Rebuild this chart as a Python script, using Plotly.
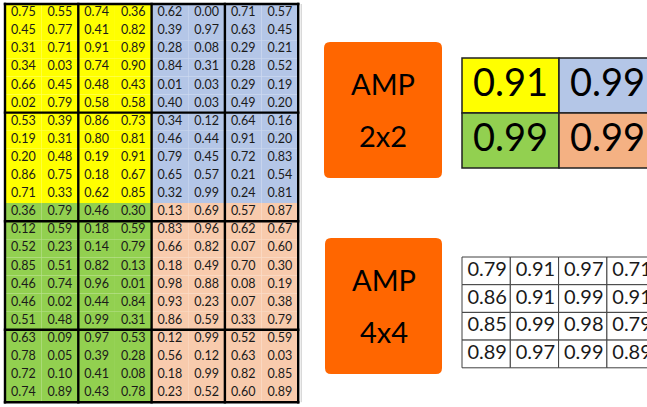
import plotly.graph_objects as go

# ---------------- data ----------------
grid_block1 = [
    [0.75, 0.55, 0.74, 0.36, 0.62, 0.00, 0.71, 0.57],
    [0.45, 0.77, 0.41, 0.82, 0.39, 0.97, 0.63, 0.45],
    [0.31, 0.71, 0.91, 0.89, 0.28, 0.08, 0.29, 0.21],
    [0.34, 0.03, 0.74, 0.90, 0.84, 0.31, 0.28, 0.52],
    [0.66, 0.45, 0.48, 0.43, 0.01, 0.03, 0.29, 0.19],
    [0.02, 0.79, 0.58, 0.58, 0.40, 0.03, 0.49, 0.20],
]
grid_block2 = [
    [0.53, 0.39, 0.86, 0.73, 0.34, 0.12, 0.64, 0.16],
    [0.19, 0.31, 0.80, 0.81, 0.46, 0.44, 0.91, 0.20],
    [0.20, 0.48, 0.19, 0.91, 0.79, 0.45, 0.72, 0.83],
    [0.86, 0.75, 0.18, 0.67, 0.65, 0.57, 0.21, 0.54],
    [0.71, 0.33, 0.62, 0.85, 0.32, 0.99, 0.24, 0.81],
    [0.36, 0.79, 0.46, 0.30, 0.13, 0.69, 0.57, 0.87],
]
grid_block3 = [
    [0.12, 0.59, 0.18, 0.59, 0.83, 0.96, 0.62, 0.67],
    [0.52, 0.23, 0.14, 0.79, 0.66, 0.82, 0.07, 0.60],
    [0.85, 0.51, 0.82, 0.13, 0.18, 0.49, 0.70, 0.30],
    [0.46, 0.74, 0.96, 0.01, 0.98, 0.88, 0.08, 0.19],
    [0.46, 0.02, 0.44, 0.84, 0.93, 0.23, 0.07, 0.38],
    [0.51, 0.48, 0.99, 0.31, 0.86, 0.59, 0.33, 0.79],
]
grid_block4 = [
    [0.63, 0.09, 0.97, 0.53, 0.12, 0.99, 0.52, 0.59],
    [0.78, 0.05, 0.39, 0.28, 0.56, 0.12, 0.63, 0.03],
    [0.72, 0.10, 0.41, 0.08, 0.18, 0.99, 0.82, 0.85],
    [0.74, 0.89, 0.43, 0.78, 0.23, 0.52, 0.60, 0.89],
]
amp2_values = [
    [0.91, 0.99],
    [0.99, 0.99],
]
amp4_values = [
    [0.79, 0.91, 0.97, 0.71],
    [0.86, 0.91, 0.99, 0.91],
    [0.85, 0.99, 0.98, 0.79],
    [0.89, 0.97, 0.99, 0.89],
]
amp_titles = ["AMP", "AMP"]
amp_sizes = ["2x2", "4x4"]

# ---------------- styles ----------------
YELLOW = "#FFFF00"
BLUE = "#B4C6E7"
GREEN = "#92D050"
SALMON = "#F8CBAD"
SALMON2 = "#F4B183"
ORANGE = "#FF6600"
TXT = "#1a1a1a"
FONT = "Lato"

W, H = 647, 407
shapes = []
tx, ty, tt = [], [], []

# ---------------- left grid ----------------
grid = grid_block1 + grid_block2 + grid_block3 + grid_block4
nrows, ncols = len(grid), len(grid[0])
gx0, gy0 = 5.0, 4.0
cw, rh = 36.65, 18.1
for r in range(nrows):
    for c in range(ncols):
        if r < 11:
            col = YELLOW if c < 4 else BLUE
        else:
            col = GREEN if c < 4 else SALMON
        shapes.append(dict(type="rect", xref="x", yref="y",
                           x0=gx0 + c * cw, x1=gx0 + (c + 1) * cw,
                           y0=gy0 + r * rh, y1=gy0 + (r + 1) * rh,
                           fillcolor=col, line=dict(width=0), layer="below"))
        tx.append(gx0 + (c + 0.5) * cw)
        ty.append(gy0 + (r + 0.5) * rh)
        tt.append(f"{grid[r][c]:.2f}")
gx1 = gx0 + ncols * cw
gy1 = gy0 + nrows * rh
# light grey outer edge
shapes.append(dict(type="line", xref="x", yref="y", x0=gx1 + 3, x1=gx1 + 3,
                   y0=gy0, y1=gy1, line=dict(color="#c8c8c8", width=1)))
for c in range(0, ncols + 1, 2):
    shapes.append(dict(type="line", xref="x", yref="y",
                       x0=gx0 + c * cw, x1=gx0 + c * cw, y0=gy0 - 1.2, y1=gy1 + 1.2,
                       line=dict(color="black", width=2.4)))
for r in [0, 6, 12, 18, nrows]:
    shapes.append(dict(type="line", xref="x", yref="y",
                       x0=gx0 - 1.2, x1=gx1 + 1.2, y0=gy0 + r * rh, y1=gy0 + r * rh,
                       line=dict(color="black", width=2.4)))


# ---------------- AMP boxes ----------------
def rounded(x0, y0, x1, y1, rad):
    return (f"M {x0+rad},{y0} L {x1-rad},{y0} Q {x1},{y0} {x1},{y0+rad} "
            f"L {x1},{y1-rad} Q {x1},{y1} {x1-rad},{y1} L {x0+rad},{y1} "
            f"Q {x0},{y1} {x0},{y1-rad} L {x0},{y0+rad} Q {x0},{y0} {x0+rad},{y0} Z")


amp_boxes = [(324, 42, 442, 178), (325, 238, 442, 374)]
annotations = []
for (x0, y0, x1, y1), t1, t2 in zip(amp_boxes, amp_titles, amp_sizes):
    shapes.append(dict(type="path", xref="x", yref="y", path=rounded(x0, y0, x1, y1, 6),
                       fillcolor=ORANGE, line=dict(width=0), layer="below"))
    cy = (y0 + y1) / 2
    annotations.append(dict(x=(x0 + x1) / 2, y=cy - 27, xref="x", yref="y",
                            text=t1, showarrow=False,
                            font=dict(family=FONT, size=29, color="black")))
    annotations.append(dict(x=(x0 + x1) / 2, y=cy + 25, xref="x", yref="y",
                            text=t2, showarrow=False,
                            font=dict(family=FONT, size=29, color="black")))

# ---------------- 2x2 table ----------------
t2x0, t2y0, t2cw, t2rh = 462, 58, 97, 55
t2colors = [[YELLOW, BLUE], [GREEN, SALMON2]]
tx2, ty2, tt2 = [], [], []
for r in range(2):
    for c in range(2):
        shapes.append(dict(type="rect", xref="x", yref="y",
                           x0=t2x0 + c * t2cw, x1=t2x0 + (c + 1) * t2cw,
                           y0=t2y0 + r * t2rh, y1=t2y0 + (r + 1) * t2rh,
                           fillcolor=t2colors[r][c], line=dict(color="#202020", width=1.5),
                           layer="below"))
        tx2.append(t2x0 + (c + 0.5) * t2cw)
        ty2.append(t2y0 + (r + 0.5) * t2rh + 1)
        tt2.append(f"{amp2_values[r][c]:.2f}")

# ---------------- 4x4 table ----------------
t4x0, t4y0, t4cw, t4rh = 462, 257, 48.3, 27.7
tx4, ty4, tt4 = [], [], []
for r in range(4):
    for c in range(4):
        shapes.append(dict(type="rect", xref="x", yref="y",
                           x0=t4x0 + c * t4cw, x1=t4x0 + (c + 1) * t4cw,
                           y0=t4y0 + r * t4rh, y1=t4y0 + (r + 1) * t4rh,
                           fillcolor="white", line=dict(color="#404040", width=1),
                           layer="below"))
        tx4.append(t4x0 + (c + 0.5) * t4cw + 1)
        ty4.append(t4y0 + (r + 0.5) * t4rh)
        tt4.append(f"{amp4_values[r][c]:.2f}")

fig = go.Figure()
fig.add_trace(go.Scatter(x=tx, y=ty, text=tt, mode="text", hoverinfo="skip",
                         textfont=dict(family=FONT, size=12.5, color=TXT)))
fig.add_trace(go.Scatter(x=tx2, y=ty2, text=tt2, mode="text", hoverinfo="skip",
                         textfont=dict(family=FONT, size=38, color="black")))
fig.add_trace(go.Scatter(x=tx4, y=ty4, text=tt4, mode="text", hoverinfo="skip",
                         textfont=dict(family=FONT, size=20, color=TXT)))

fig.update_layout(
    width=W, height=H, margin=dict(l=0, r=0, t=0, b=0),
    paper_bgcolor="white", plot_bgcolor="white", showlegend=False,
    shapes=shapes, annotations=annotations,
    xaxis=dict(range=[0, W], visible=False, fixedrange=True),
    yaxis=dict(range=[H, 0], visible=False, fixedrange=True),
)
fig.write_html("out.html", config={"displayModeBar": False},
               post_script="document.body.style.margin='0px';document.body.style.overflow='hidden';")
